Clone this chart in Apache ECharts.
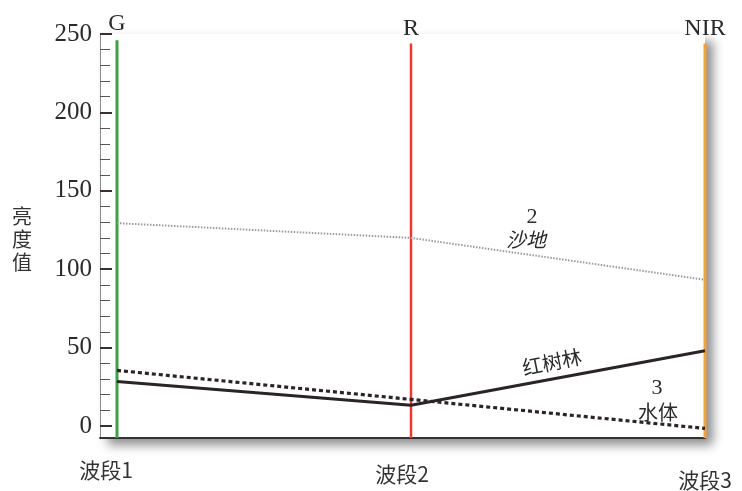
<!DOCTYPE html>
<html>
<head>
<meta charset="utf-8">
<script src="https://cdn.jsdelivr.net/npm/echarts@6/dist/echarts.min.js"></script>
<style>html,body{margin:0;padding:0;background:#fff;}#c{width:742px;height:491px;}</style>
</head>
<body>
<div id="c"></div>
<script>
var bands = ['波段1', '波段2', '波段3'];
var channels = ['G', 'R', 'NIR'];
var channelColors = ['#3f9e46', '#ee3a2e', '#f6a23c'];
var mangrove = [28.5, 13.3, 48];
var water = [35.5, 17, -1.5];
var sand = [129.4, 120, 93.3];
var majorTicks = [0, 50, 100, 150, 200, 250];
var minorTicks = [10, 20, 30, 40, 60, 70, 80, 90, 110, 120, 130, 140, 160, 170, 180, 190, 210, 220, 230, 240];
var yMin = -7.6, yMax = 250, lineTop = 246;

var serif = '"Liberation Serif","DejaVu Serif",serif';
var cjk = '"Noto Sans CJK SC",sans-serif';

function pts(arr) { return arr.map(function (v, i) { return [i, v]; }); }

var series = [];
channels.forEach(function (ch, i) {
  series.push({
    type: 'line', silent: true, symbol: 'circle', symbolSize: 0.01, showSymbol: true, showAllSymbol: true, clip: false, z: 3,
    itemStyle: { color: channelColors[i] },
    lineStyle: { color: channelColors[i], width: i === 1 ? 2.5 : 3 },
    label: { show: false },
    labelLayout: { hideOverlap: false },
    data: [[i, yMin], { value: [i, i === 0 ? lineTop : lineTop - 2], label: { show: true, position: 'top', distance: i === 0 ? 5 : 3, formatter: ch, color: '#2a2a2a', fontFamily: serif, fontSize: 24 } }]
  });
});
series.push({ type: 'line', symbol: 'none', z: 4, lineStyle: { color: '#9a9a9a', width: 2, type: [1.5, 1.5] }, data: pts(sand) });
series.push({ type: 'line', symbol: 'none', z: 4, lineStyle: { color: '#2a2426', width: 3 }, data: pts(mangrove) });
series.push({ type: 'line', symbol: 'none', z: 4, lineStyle: { color: '#2a2426', width: 3.2, type: [4, 3] }, data: pts(water) });

var chart = echarts.init(document.getElementById('c'));
chart.setOption({
  animation: false,
  grid: { left: 100, right: 37, top: 34, bottom: 51, show: true, backgroundColor: '#fff', borderWidth: 0,
          shadowColor: 'rgba(0,0,0,0.45)', shadowBlur: 10, shadowOffsetX: 8, shadowOffsetY: 7 },
  xAxis: {
    type: 'value', min: -0.0578, max: 2,
    axisLine: { show: true, onZero: false, lineStyle: { color: '#333', width: 2 } },
    axisTick: { show: false }, splitLine: { show: false },
    axisLabel: {
      show: true, customValues: [0, 1, 2],
      formatter: function (v) { var i = Math.round(v); return ['{a|', '{b|', '{c|'][i] + bands[i] + '}'; },
      rich: {
        a: { fontFamily: cjk, fontSize: 21, color: '#333', padding: [14, 22, 0, 0] },
        b: { fontFamily: cjk, fontSize: 21, color: '#333', padding: [18, 18, 0, 0] },
        c: { fontFamily: cjk, fontSize: 21, color: '#333', padding: [24, 0, 0, 0] }
      }
    }
  },
  yAxis: [{
    type: 'value', min: yMin, max: yMax,
    axisLine: { show: true, onZero: false, lineStyle: { color: '#8a8a8a', width: 1 } },
    axisTick: { show: true, inside: true, length: 12, customValues: majorTicks, lineStyle: { color: '#3a3034', width: 2 } },
    axisLabel: { show: true, customValues: majorTicks, margin: 8, fontFamily: serif, fontSize: 25, color: '#2a2a2a' },
    splitLine: { show: false }
  }, {
    type: 'value', min: yMin, max: yMax, position: 'left',
    axisLine: { show: false, onZero: false },
    axisTick: { show: true, inside: true, length: 10, customValues: minorTicks, lineStyle: { color: '#555', width: 1 } },
    axisLabel: { show: false }, splitLine: { show: false }
  }],
  graphic: [
    { type: 'text', left: 12, top: 205, style: { text: '亮\n度\n值', font: '20px ' + cjk, lineHeight: 23, fill: '#333' } },
    { type: 'text', x: 532, y: 217, style: { text: '2', font: '22px ' + serif, fill: '#2a2a2a', align: 'center', verticalAlign: 'middle' } },
    { type: 'text', x: 526, y: 239, style: { text: '沙地', font: 'italic 20px ' + cjk, fill: '#2a2a2a', align: 'center', verticalAlign: 'middle' } },
    { type: 'text', x: 552, y: 362, rotation: 0.2, style: { text: '红树林', font: '20px ' + cjk, fill: '#2a2a2a', align: 'center', verticalAlign: 'middle' } },
    { type: 'text', x: 657, y: 388, style: { text: '3', font: '22px ' + serif, fill: '#2a2a2a', align: 'center', verticalAlign: 'middle' } },
    { type: 'text', x: 658, y: 412, style: { text: '水体', font: '20px ' + cjk, fill: '#2a2a2a', align: 'center', verticalAlign: 'middle' } }
  ],
  series: series
});
</script>
</body>
</html>
